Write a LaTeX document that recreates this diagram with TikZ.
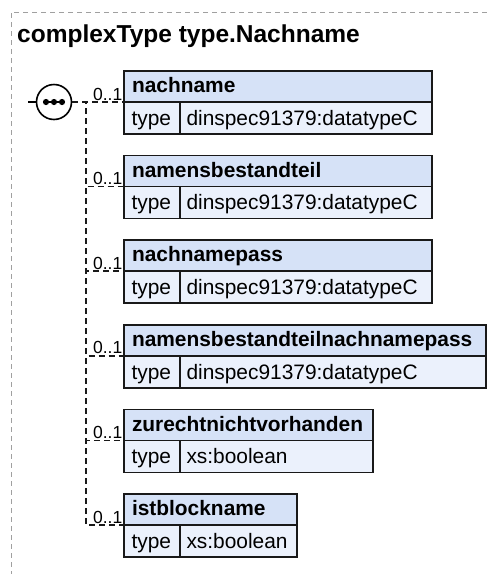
\documentclass[tikz,border=0pt]{standalone}
\usepackage{fontspec}
\setmainfont{Liberation Sans}
\usepackage{xcolor}
\definecolor{kopfblau}{RGB}{214,226,247}
\definecolor{zeileblau}{RGB}{235,241,252}
\definecolor{rahmengrau}{RGB}{160,160,160}
\tikzset{
	elemhead/.style={
		draw=black!90,
		fill=kopfblau,
		line width=1.5pt,
		anchor=north west,
		outer sep=0pt,
		inner xsep=8pt,
		inner ysep=0pt,
		minimum height=31pt,
		text height=14pt,
		text depth=1.8pt,
		align=left,
		font=\fontsize{20.9}{24}\selectfont\bfseries
	},
	typecell/.style={
		draw=black!90,
		fill=zeileblau,
		line width=1.5pt,
		anchor=north west,
		outer sep=0pt,
		inner xsep=7.5pt,
		inner ysep=0pt,
		minimum height=32pt,
		text width=41pt,
		text height=16pt,
		text depth=1.4pt,
		align=left,
		font=\fontsize{20.9}{24}\selectfont
	},
	valuecell/.style={
		typecell,
		inner xsep=6.5pt
	},
	cardlabel/.style={
		anchor=south east,
		inner sep=1pt,
		font=\fontsize{17.5}{20}\selectfont
	},
	conn/.style={
		draw=black!90,
		line width=1.5pt,
		dash pattern=on 6pt off 4pt
	},
	seqcircle/.style={
		circle,
		draw=black,
		fill=white,
		line width=1.6pt,
		minimum size=35pt,
		inner sep=0pt
	},
	frameline/.style={
		draw=rahmengrau,
		line width=1pt,
		dash pattern=on 5pt off 4pt
	}
}

\begin{document}
\begin{tikzpicture}[x=1pt,y=-1pt]
	\useasboundingbox (0,0) rectangle (487,574);
	\draw[frameline] (487,12) -| (11,574);
	\node[anchor=base west, inner sep=0pt, font=\fontsize{24.5}{29}\selectfont\bfseries] (title) at (17,42.7) {complexType type.Nachname};
	
	% sequence
	\node[seqcircle] (seq) at (54,102) {};
	\coordinate (seqin) at (28,102);
	\coordinate (fork) at (86,102);
	\draw[line width=1.5pt] (seqin) -- (seq);
	\draw[line width=1.5pt] ([xshift=-10pt]seq.center) -- ([xshift=10pt]seq.center);
	\fill ([xshift=-8pt]seq.center) circle (3.1) (seq.center) circle (3.1) ([xshift=8pt]seq.center) circle (3.1);
	
	% elements
	\node[elemhead, text width=292pt] (nachname) at (124,71) {nachname};
	\node[typecell] (nachnameT) at (nachname.south west) {type};
	\node[valuecell, text width=239pt] (nachnameV) at (nachnameT.north east) {dinspec91379:datatypeC};
	
	\node[elemhead, text width=292pt] (namensbestandteil) at (124,155.6) {namensbestandteil};
	\node[typecell] (namensbestandteilT) at (namensbestandteil.south west) {type};
	\node[valuecell, text width=239pt] (namensbestandteilV) at (namensbestandteilT.north east) {dinspec91379:datatypeC};
	
	\node[elemhead, text width=292pt] (nachnamepass) at (124,240.2) {nachnamepass};
	\node[typecell] (nachnamepassT) at (nachnamepass.south west) {type};
	\node[valuecell, text width=239pt] (nachnamepassV) at (nachnamepassT.north east) {dinspec91379:datatypeC};
	
	\node[elemhead, text width=346pt] (nbtnachnamepass) at (124,324.8) {namensbestandteilnachnamepass};
	\node[typecell] (nbtnachnamepassT) at (nbtnachnamepass.south west) {type};
	\node[valuecell, text width=293pt] (nbtnachnamepassV) at (nbtnachnamepassT.north east) {dinspec91379:datatypeC};
	
	\node[elemhead, text width=233pt] (zurecht) at (124,409.4) {zurechtnichtvorhanden};
	\node[typecell] (zurechtT) at (zurecht.south west) {type};
	\node[valuecell, text width=180pt] (zurechtV) at (zurechtT.north east) {xs:boolean};
	
	\node[elemhead, text width=157pt] (istblockname) at (124,494) {istblockname};
	\node[typecell] (istblocknameT) at (istblockname.south west) {type};
	\node[valuecell, text width=104pt] (istblocknameV) at (istblocknameT.north east) {xs:boolean};
	
	% connectors
	\draw[conn] (seq.east) -- (fork) |- (nachname.south west) node[cardlabel] {0..1};
	\draw[conn] (seq.east) -- (fork) |- (namensbestandteil.south west) node[cardlabel] {0..1};
	\draw[conn] (seq.east) -- (fork) |- (nachnamepass.south west) node[cardlabel] {0..1};
	\draw[conn] (seq.east) -- (fork) |- (nbtnachnamepass.south west) node[cardlabel] {0..1};
	\draw[conn] (seq.east) -- (fork) |- (zurecht.south west) node[cardlabel] {0..1};
	\draw[conn] (seq.east) -- (fork) |- (istblockname.south west) node[cardlabel] {0..1};
	
\end{tikzpicture}
\end{document}
